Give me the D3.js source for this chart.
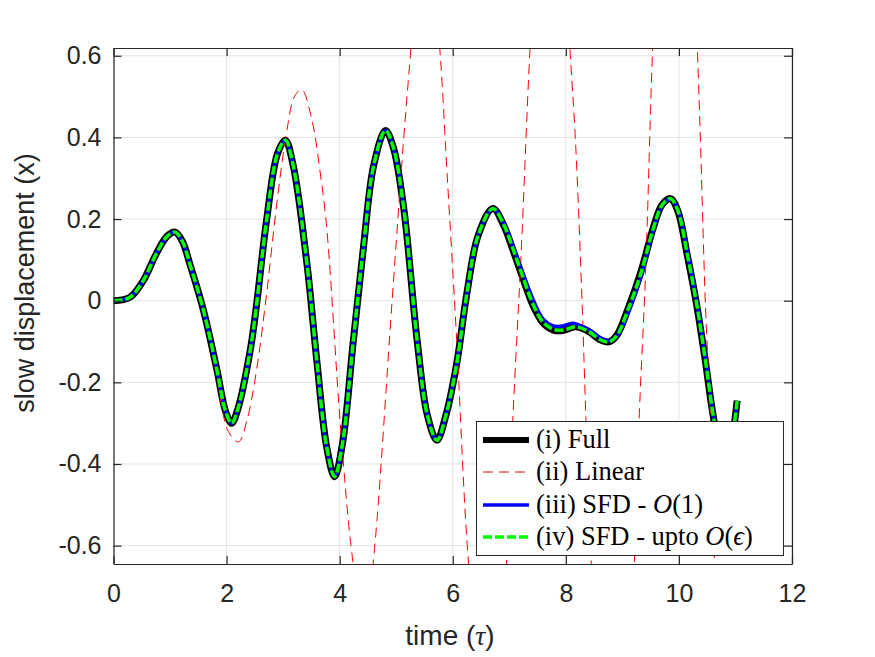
<!DOCTYPE html>
<html>
<head>
<meta charset="utf-8">
<script src="https://cdn.jsdelivr.net/npm/d3@7"></script>
<style>
  body { margin: 0; background: #fff; }
  svg { display: block; }
</style>
</head>
<body>
<svg id="chart" width="875" height="657"></svg>
<script>
// (i) Full solution: [time, displacement]
const fullData = [
  [0, 0], [0.15, 0.002], [0.3, 0.009], [0.53, 0.05], [0.76, 0.116], [0.95, 0.158],
  [1.09, 0.168], [1.22, 0.145], [1.35, 0.09], [1.59, -0.023], [1.83, -0.17],
  [1.98, -0.27], [2.09, -0.3], [2.2, -0.265], [2.42, -0.12], [2.53, -0.01],
  [2.71, 0.2], [2.9, 0.36], [3.04, 0.393], [3.18, 0.33], [3.42, 0.092],
  [3.6, -0.153], [3.77, -0.358], [3.91, -0.431], [4.05, -0.35], [4.24, -0.1],
  [4.42, 0.13], [4.6, 0.33], [4.81, 0.417], [4.95, 0.375], [5.13, 0.23],
  [5.37, -0.097], [5.55, -0.28], [5.72, -0.342], [5.88, -0.28], [6.07, -0.154],
  [6.25, 0.018], [6.45, 0.16], [6.71, 0.226], [6.9, 0.185], [7.05, 0.13],
  [7.19, 0.075], [7.43, -0.015], [7.6, -0.055], [7.78, -0.072], [7.95, -0.073],
  [8.17, -0.064], [8.4, -0.075], [8.6, -0.095], [8.76, -0.101], [8.9, -0.085],
  [9.1, -0.02], [9.32, 0.067], [9.55, 0.18], [9.7, 0.235], [9.85, 0.25],
  [9.98, 0.22], [10.15, 0.11], [10.32, -0.015], [10.47, -0.15], [10.62, -0.293],
  [10.75, -0.37], [10.85, -0.39], [10.95, -0.33], [11.03, -0.245]
];

// (ii) Linear
const linearData = [
  [0, 0], [0.3, 0.009], [0.53, 0.05], [0.76, 0.117], [0.95, 0.162], [1.1, 0.17],
  [1.25, 0.14], [1.4, 0.075], [1.6, -0.03], [1.83, -0.19], [2.03, -0.32],
  [2.21, -0.346], [2.36, -0.293], [2.53, -0.17], [2.71, 0.02], [2.89, 0.24],
  [3.07, 0.42], [3.2, 0.5], [3.33, 0.517], [3.51, 0.442], [3.65, 0.32],
  [3.77, 0.18], [4.01, -0.3], [4.2, -0.6], [4.3, -0.69], [4.42, -0.73],
  [4.54, -0.69], [4.63, -0.586], [4.92, -0.015], [5.13, 0.393], [5.25, 0.6],
  [5.35, 0.77], [5.51, 0.86], [5.67, 0.77], [5.78, 0.6], [5.9, 0.311],
  [6.07, -0.097], [6.25, -0.586], [6.45, -0.91], [6.63, -1.05], [6.8, -0.93],
  [6.95, -0.645], [7.07, -0.268], [7.22, 0.148], [7.36, 0.6], [7.5, 0.94],
  [7.72, 1.17], [7.94, 0.94], [8.08, 0.6], [8.17, 0.393], [8.29, -0.015],
  [8.35, -0.268], [8.45, -0.645], [8.62, -1.14], [8.83, -1.38], [9.04, -1.14],
  [9.21, -0.645], [9.3, -0.276], [9.41, 0.067], [9.5, 0.475], [9.53, 0.6],
  [9.72, 1.2], [9.93, 1.45], [10.14, 1.2], [10.33, 0.6], [10.38, 0.393],
  [10.47, -0.015], [10.55, -0.26], [10.63, -0.645], [10.8, -1.1], [11.03, -1.4]
];

// (iii) SFD - O(1)
const sfdO1Data = [
  [0, 0], [0.15, 0.002], [0.3, 0.009], [0.53, 0.05], [0.76, 0.116], [0.95, 0.158],
  [1.09, 0.168], [1.22, 0.145], [1.35, 0.09], [1.59, -0.023], [1.83, -0.17],
  [1.98, -0.27], [2.09, -0.3], [2.2, -0.265], [2.42, -0.12], [2.53, -0.01],
  [2.71, 0.2], [2.9, 0.36], [3.04, 0.393], [3.18, 0.33], [3.42, 0.092],
  [3.6, -0.153], [3.77, -0.358], [3.91, -0.431], [4.05, -0.35], [4.24, -0.1],
  [4.42, 0.13], [4.6, 0.33], [4.81, 0.417], [4.95, 0.375], [5.13, 0.23],
  [5.37, -0.097], [5.55, -0.28], [5.72, -0.342], [5.88, -0.28], [6.07, -0.154],
  [6.25, 0.018], [6.45, 0.16], [6.71, 0.226], [6.9, 0.19], [7.05, 0.14],
  [7.19, 0.085], [7.43, 0.0], [7.6, -0.045], [7.78, -0.062], [7.95, -0.062],
  [8.12, -0.055], [8.4, -0.07], [8.6, -0.09], [8.76, -0.098], [8.9, -0.088],
  [9.1, -0.03], [9.32, 0.055], [9.55, 0.175], [9.7, 0.232], [9.85, 0.25],
  [9.98, 0.225], [10.15, 0.12], [10.32, -0.005], [10.47, -0.14], [10.62, -0.285],
  [10.75, -0.365], [10.85, -0.385], [10.95, -0.33], [11.03, -0.245]
];

// (iv) SFD - upto O(eps)
const sfdEpsData = [
  [0, 0], [0.15, 0.002], [0.3, 0.009], [0.53, 0.05], [0.76, 0.116], [0.95, 0.158],
  [1.09, 0.168], [1.22, 0.145], [1.35, 0.09], [1.59, -0.023], [1.83, -0.17],
  [1.98, -0.27], [2.09, -0.3], [2.2, -0.265], [2.42, -0.12], [2.53, -0.01],
  [2.71, 0.2], [2.9, 0.36], [3.04, 0.393], [3.18, 0.33], [3.42, 0.092],
  [3.6, -0.153], [3.77, -0.358], [3.91, -0.431], [4.05, -0.35], [4.24, -0.1],
  [4.42, 0.13], [4.6, 0.33], [4.81, 0.417], [4.95, 0.375], [5.13, 0.23],
  [5.37, -0.097], [5.55, -0.28], [5.72, -0.342], [5.88, -0.28], [6.07, -0.154],
  [6.25, 0.018], [6.45, 0.16], [6.71, 0.226], [6.9, 0.187], [7.05, 0.133],
  [7.19, 0.078], [7.43, -0.012], [7.6, -0.053], [7.78, -0.07], [7.95, -0.072],
  [8.17, -0.064], [8.4, -0.075], [8.6, -0.095], [8.76, -0.101], [8.9, -0.086],
  [9.1, -0.022], [9.32, 0.064], [9.55, 0.178], [9.7, 0.234], [9.85, 0.25],
  [9.98, 0.221], [10.15, 0.112], [10.32, -0.013], [10.47, -0.148], [10.62, -0.291],
  [10.75, -0.37], [10.85, -0.39], [10.95, -0.33], [11.03, -0.245]
];

const xTicks = [0, 2, 4, 6, 8, 10, 12];
const yTicks = [-0.6, -0.4, -0.2, 0, 0.2, 0.4, 0.6];
const legendLabels = ["(i) Full", "(ii) Linear", "(iii) SFD - ", "(iv) SFD - upto "];

const svg = d3.select("#chart");
const plot = { left: 113.5, right: 792, top: 48, bottom: 564 };
const width = plot.right - plot.left;
const height = plot.bottom - plot.top;
const axisColor = "#262626";
const tickFont = "'Liberation Sans', Arial, Helvetica, sans-serif";
const serif = "'Liberation Serif', 'Times New Roman', serif";

const x = d3.scaleLinear().domain([0, 12]).range([plot.left, plot.right]);
const y = d3.scaleLinear().domain([-0.645, 0.619]).range([plot.bottom, plot.top]);

svg.append("rect")
  .attr("x", plot.left).attr("y", plot.top)
  .attr("width", width).attr("height", height)
  .attr("fill", "#fff");

// grid
const grid = svg.append("g").attr("class", "grid");
grid.selectAll(".vg").data(xTicks).join("line")
  .attr("x1", d => x(d)).attr("x2", d => x(d))
  .attr("y1", plot.top).attr("y2", plot.bottom)
  .attr("stroke", "#e3e3e3").attr("stroke-width", 1);
grid.selectAll(".hg").data(yTicks).join("line")
  .attr("y1", d => y(d)).attr("y2", d => y(d))
  .attr("x1", plot.left).attr("x2", plot.right)
  .attr("stroke", "#e3e3e3").attr("stroke-width", 1);

svg.append("clipPath").attr("id", "clip")
  .append("rect")
  .attr("x", plot.left).attr("y", plot.top)
  .attr("width", width).attr("height", height);

const line = d3.line()
  .x(d => x(d[0]))
  .y(d => y(d[1]))
  .curve(d3.curveCatmullRom.alpha(0.5));

const series = [
  { data: fullData, color: "#000000", width: 7, dash: null },
  { data: linearData, color: "#ff0000", width: 1, dash: "10,6" },
  { data: sfdO1Data, color: "#0000ff", width: 3.5, dash: null },
  { data: sfdEpsData, color: "#00ff00", width: 3.5, dash: "9,3" }
];

const lines = svg.append("g").attr("clip-path", "url(#clip)");
series.forEach(s => {
  lines.append("path")
    .datum(s.data)
    .attr("d", line)
    .attr("fill", "none")
    .attr("stroke", s.color)
    .attr("stroke-width", s.width)
    .attr("stroke-linejoin", "round")
    .attr("stroke-dasharray", s.dash);
});

// axes, ticks pointing inward on all four sides
function styleAxis(g) {
  g.select(".domain").attr("stroke", axisColor).attr("stroke-width", 1.2);
  g.selectAll(".tick line").attr("stroke", axisColor).attr("stroke-width", 1.2);
  g.selectAll(".tick text")
    .attr("fill", axisColor)
    .attr("font-family", tickFont)
    .attr("font-size", 25);
}

const fmt = d => d === 0 ? "0" : d.toFixed(1).replace("\u2212", "-");

svg.append("g")
  .attr("transform", `translate(0,${plot.bottom})`)
  .call(d3.axisBottom(x).tickValues(xTicks).tickSizeInner(-8).tickSizeOuter(0).tickPadding(20))
  .call(styleAxis);
svg.append("g")
  .attr("transform", `translate(0,${plot.top})`)
  .call(d3.axisTop(x).tickValues(xTicks).tickSizeInner(-8).tickSizeOuter(0).tickFormat(""))
  .call(styleAxis);
svg.append("g")
  .attr("transform", `translate(${plot.left},0)`)
  .call(d3.axisLeft(y).tickValues(yTicks).tickSizeInner(-8).tickSizeOuter(0).tickPadding(12).tickFormat(fmt))
  .call(styleAxis);
svg.append("g")
  .attr("transform", `translate(${plot.right},0)`)
  .call(d3.axisRight(y).tickValues(yTicks).tickSizeInner(-8).tickSizeOuter(0).tickFormat(""))
  .call(styleAxis);

// axis labels
const xl = svg.append("text")
  .attr("x", 450).attr("y", 645)
  .attr("text-anchor", "middle")
  .attr("font-family", tickFont)
  .attr("font-size", 28)
  .attr("fill", axisColor);
xl.append("tspan").text("time (");
xl.append("tspan").attr("font-family", serif).attr("font-style", "italic").text("\u03C4");
xl.append("tspan").text(")");

svg.append("text")
  .attr("transform", "translate(34,283) rotate(-90)")
  .attr("text-anchor", "middle")
  .attr("font-family", tickFont)
  .attr("font-size", 27)
  .attr("fill", axisColor)
  .text("slow displacement (x)");

// legend
const lg = svg.append("g");
lg.append("rect")
  .attr("x", 476.5).attr("y", 421.5)
  .attr("width", 307).attr("height", 134)
  .attr("fill", "#fff")
  .attr("stroke", axisColor)
  .attr("stroke-width", 1);

const rowY = [440, 472, 505, 537];
series.forEach((s, i) => {
  lg.append("line")
    .attr("x1", 483).attr("x2", 529)
    .attr("y1", rowY[i]).attr("y2", rowY[i])
    .attr("stroke", s.color)
    .attr("stroke-width", s.width === 7 ? 6 : s.width)
    .attr("stroke-dasharray", s.dash);
  const t = lg.append("text")
    .attr("x", 536).attr("y", rowY[i] + 8)
    .attr("font-family", serif)
    .attr("font-size", 26.5)
    .attr("fill", "#000");
  t.append("tspan").text(legendLabels[i]);
  if (i === 2) {
    t.append("tspan").attr("font-style", "italic").text("O");
    t.append("tspan").text("(1)");
  }
  if (i === 3) {
    t.append("tspan").attr("font-style", "italic").text("O");
    t.append("tspan").text("(");
    t.append("tspan").attr("font-style", "italic").text("\u03F5");
    t.append("tspan").text(")");
  }
});
</script>
</body>
</html>
